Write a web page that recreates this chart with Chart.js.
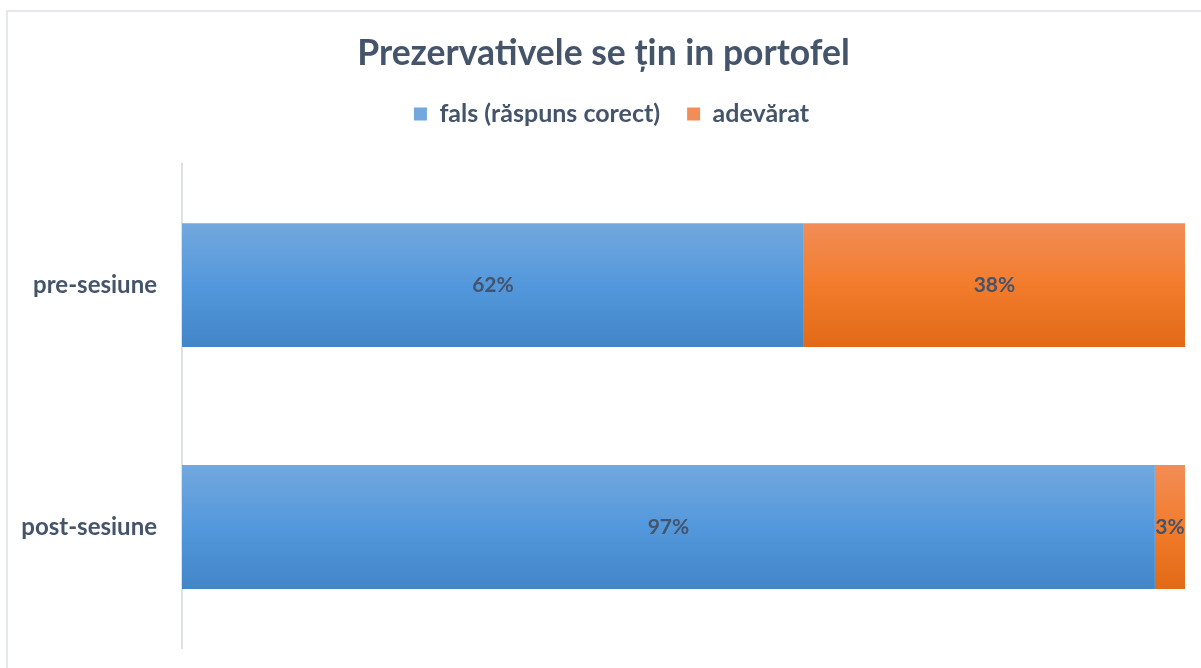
<!DOCTYPE html>
<html>
<head>
<meta charset="utf-8">
<script src="https://cdn.jsdelivr.net/npm/chart.js@4.4.1/dist/chart.umd.min.js"></script>
<style>
  html, body { margin: 0; padding: 0; background: #fff; overflow: hidden; }
  #frame { position: absolute; left: 6px; top: 10px; right: -10px; bottom: -10px;
           border-left: 2px solid #e4e8ee; border-top: 2px solid #e4e8ee; }
  #wrap { position: absolute; left: 0; top: 0; width: 1201px; height: 668px; }
</style>
</head>
<body>
<div id="frame"></div>
<div id="wrap"><canvas id="chart"></canvas></div>
<script>
const titleText = 'Prezervativele se țin in portofel';
const categories = ['pre-sesiune', 'post-sesiune'];
const seriesNames = ['fals (răspuns corect)', 'adevărat'];
const falsValues = [62, 97];
const adevaratValues = [38, 3];

const textColor = '#44546a';
const barPct = 0.512;

function barGradient(stops, solid) {
    return function(context) {
        const chart = context.chart;
        if (!chart.chartArea || context.dataIndex === undefined) return solid;
        const y = chart.scales.y;
        const c = y.getPixelForValue(context.dataIndex);
        const h = (y.height / categories.length) * barPct;
        const g = chart.ctx.createLinearGradient(0, c - h / 2, 0, c + h / 2);
        g.addColorStop(0, stops[0]);
        g.addColorStop(0.5, stops[1]);
        g.addColorStop(1, stops[2]);
        return g;
    };
}

const valueLabels = {
    id: 'valueLabels',
    afterDatasetsDraw(chart) {
        const ctx = chart.ctx;
        ctx.save();
        ctx.font = 'bold 21px Lato';
        ctx.fillStyle = textColor;
        ctx.textAlign = 'center';
        ctx.textBaseline = 'middle';
        chart.data.datasets.forEach((ds, i) => {
            chart.getDatasetMeta(i).data.forEach((bar, j) => {
                const cx = (bar.x + bar.base) / 2;
                ctx.fillText(ds.data[j] + '%', cx, bar.y);
            });
        });
        ctx.restore();
    }
};

// extra room between the legend and the bars, and nudge title/legend right
const headerTweak = {
    id: 'headerTweak',
    afterInit(chart) {
        const lg = chart.legend;
        const orig = lg.fit;
        lg.fit = function() {
            orig.call(this);
            this.height += 27.5;
        };
    },
    afterLayout(chart) {
        chart.titleBlock.left += 11;
        chart.titleBlock.right += 11;
        chart.legend.left += 19;
        chart.legend.right += 19;
    }
};

const ctx = document.getElementById('chart').getContext('2d');
new Chart(ctx, {
    type: 'bar',
    data: {
        labels: categories,
        datasets: [{
            label: seriesNames[0],
            data: falsValues,
            backgroundColor: barGradient(['#72a8dd', '#5398dc', '#4286c8'], '#5b9bd5'),
            borderWidth: 0
        }, {
            label: seriesNames[1],
            data: adevaratValues,
            backgroundColor: barGradient(['#f28d57', '#f27c2c', '#e26a16'], '#ed7d31'),
            borderWidth: 0
        }]
    },
    options: {
        indexAxis: 'y',
        responsive: true,
        maintainAspectRatio: false,
        animation: false,
        categoryPercentage: 1,
        barPercentage: barPct,
        layout: { padding: { top: 0, left: 0, right: 16, bottom: 20 } },
        scales: {
            x: {
                stacked: true,
                display: false,
                min: 0,
                max: 100
            },
            y: {
                stacked: true,
                grid: { display: false, drawTicks: false },
                border: { display: true, color: '#dde1e7', width: 2 },
                ticks: {
                    color: textColor,
                    padding: 25,
                    font: { family: 'Lato', size: 24, weight: 'bold' }
                },
                afterFit(scale) {
                    scale.width = 182;
                    scale.paddingTop = 0;
                    scale.paddingBottom = 0;
                }
            }
        },
        plugins: {
            title: {
                display: true,
                text: titleText,
                color: textColor,
                font: { family: 'Lato', size: 35.5, weight: 'bold' },
                padding: { top: 32, bottom: 0 }
            },
            legend: {
                position: 'top',
                labels: {
                    color: textColor,
                    boxWidth: 13,
                    boxHeight: 13,
                    padding: 27,
                    font: { family: 'Lato', size: 25, weight: 'bold' }
                }
            },
            tooltip: { enabled: false }
        }
    },
    plugins: [valueLabels, headerTweak]
});
</script>
</body>
</html>
